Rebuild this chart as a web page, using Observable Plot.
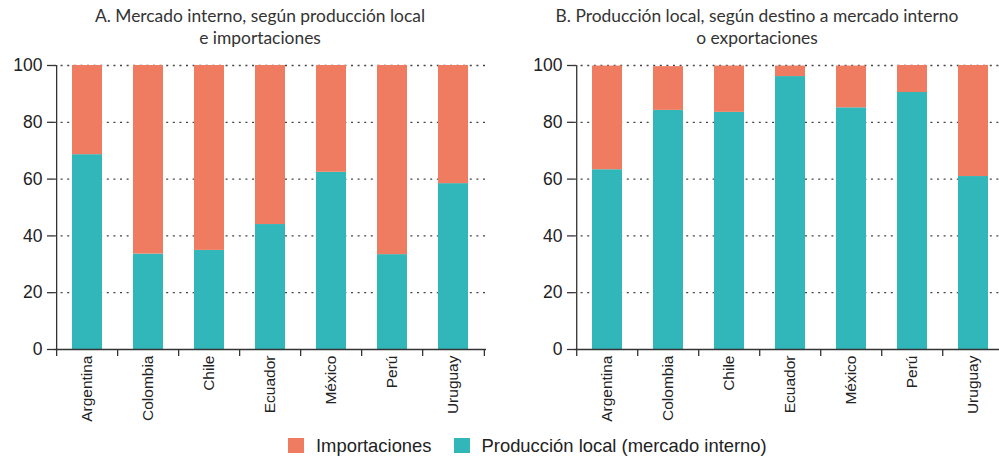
<!DOCTYPE html>
<html>
<head>
<meta charset="utf-8">
<script src="https://cdn.jsdelivr.net/npm/d3@7"></script>
<script src="https://cdn.jsdelivr.net/npm/@observablehq/plot@0.6"></script>
<style>
  body { margin: 0; background: #fff; }
  #chart {
    position: relative; width: 999px; height: 458px; overflow: hidden;
    font-family: "Liberation Sans", Arial, sans-serif; color: #222;
  }
  .title {
    position: absolute; top: 5px; width: 560px; text-align: center;
    font-family: Lato, sans-serif; font-size: 17.4px; line-height: 22px; color: #333;
  }
  .panel { position: absolute; top: 52px; }
  #legend { position: absolute; left: 288px; top: 429px; }
  #legend .lg-swatch { margin-right: 22px; }
  #legend .lg-swatch > svg { margin-right: 12px; }
</style>
</head>
<body>
<div id="chart"></div>
<script>
// Countries shown on the horizontal axis of both panels
const countries = ["Argentina", "Colombia", "Chile", "Ecuador", "México", "Perú", "Uruguay"];
// Series names, as written in the shared legend
const seriesNames = ["Importaciones", "Producción local (mercado interno)"];
const seriesColors = ["#EF7B60", "#31B6B9"];

// Panel A: internal market split into local production and imports (%)
const localA   = [68.6, 33.6, 34.9, 44.0, 62.4, 33.4, 58.4];
const importsA = [31.4, 66.4, 65.1, 56.0, 37.6, 66.6, 41.6];

// Panel B: local production split into internal market and exports (%)
const localB   = [63.3, 84.2, 83.5, 96.1, 85.1, 90.5, 60.9];
const exportsB = [36.5, 15.4, 16.3, 3.7, 14.7, 9.5, 39.1];

const yTicks = [0, 20, 40, 60, 80, 100];

const titleA = ["A. Mercado interno, según producción local", "e importaciones"];
const titleB = ["B. Producción local, según destino a mercado interno", "o exportaciones"];

const chart = document.getElementById("chart");

function panel({title, local, other, left, width, marginLeft, marginRight, titleCenter}) {
  const rows = countries.flatMap((c, i) => [
    {country: c, series: seriesNames[1], value: local[i]},
    {country: c, series: seriesNames[0], value: other[i]}
  ]);
  // band step: outer padding is half the inner padding, so bands tile the frame
  const step = (width - marginLeft - marginRight) / countries.length;

  const t = document.createElement("div");
  t.className = "title";
  t.style.left = (titleCenter - 280) + "px";
  t.innerHTML = title.join("<br>");
  chart.appendChild(t);

  const svg = Plot.plot({
    width, height: 372,
    marginTop: 13, marginBottom: 75, marginLeft, marginRight,
    style: {fontFamily: "'Liberation Sans', Arial, sans-serif", color: "#222", background: "transparent", overflow: "visible"},
    x: {domain: countries, paddingInner: 0.51, paddingOuter: 0.255, align: 0.5, axis: null},
    y: {domain: [0, 100], axis: null},
    color: {domain: seriesNames, range: seriesColors},
    marks: [
      Plot.gridY(yTicks.slice(1), {stroke: "#444", strokeOpacity: 1, strokeWidth: 1.3, strokeDasharray: "2,4.6"}),
      Plot.barY(rows, {x: "country", y: "value", fill: "series"}),
      Plot.ruleY([0], {stroke: "#333", strokeWidth: 1.3}),
      Plot.ruleX(countries.slice(0, 1), {x: d => d, y1: 0, y2: 100, dx: -step / 2, stroke: "#333", strokeWidth: 1.3}),
      Plot.axisY(yTicks, {label: null, tickSize: 7, tickPadding: 5, fontSize: 17.5, stroke: "#333", strokeWidth: 1.3}),
      Plot.axisX({label: null, tickSize: 7, dx: -step / 2, tickFormat: () => "", stroke: "#333", strokeWidth: 1.3}),
      Plot.axisX(countries.slice(-1), {label: null, tickSize: 7, dx: step / 2, tickFormat: () => "", stroke: "#333", strokeWidth: 1.3}),
      Plot.axisX({label: null, tickSize: 0, tickPadding: 6, tickRotate: -90, fontSize: 15.5, style: {letterSpacing: "0.3px"}})
    ]
  });
  svg.classList.add("panel");
  svg.style.left = left + "px";
  chart.appendChild(svg);
}

panel({title: titleA, local: localA, other: importsA, left: 0, width: 520, marginLeft: 54, marginRight: 34, titleCenter: 260});
panel({title: titleB, local: localB, other: exportsB, left: 500, width: 525, marginLeft: 74, marginRight: 20, titleCenter: 757});

const legend = Plot.legend({
  color: {domain: seriesNames, range: seriesColors},
  legend: "swatches",
  swatchWidth: 16, swatchHeight: 15,
  className: "lg",
  style: {fontSize: "18.4px", fontFamily: "'Liberation Sans', Arial, sans-serif", color: "#222"}
});
const lg = document.createElement("div");
lg.id = "legend";
lg.appendChild(legend);
chart.appendChild(lg);
</script>
</body>
</html>
